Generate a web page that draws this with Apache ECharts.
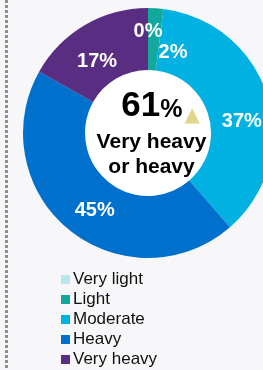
<!DOCTYPE html>
<html>
<head>
<meta charset="utf-8">
<script src="https://cdn.jsdelivr.net/npm/echarts@6/dist/echarts.min.js"></script>
<style>
  html, body { margin: 0; padding: 0; background: #f7f7fa; }
  #main { width: 263px; height: 370px; }
</style>
</head>
<body>
<div id="main"></div>
<script>
// categories and shares (%)
var categories = ['Very light', 'Light', 'Moderate', 'Heavy', 'Very heavy'];
var shares = [0, 2, 37, 45, 17];
var colors = ['#bce6ef', '#12a89d', '#00b1e2', '#0070cd', '#592d82'];
// headline in the hole
var headlineValue = 61;
var headlineText = ['Very heavy', 'or heavy'];

// nudges for the slice labels (px)
var labelNudge = [[0, -5], [19, 16], [1, 17], [8, 2], [-2, 12]];

var myChart = echarts.init(document.getElementById('main'));

var pieData = categories.map(function (name, i) {
    return {
        name: name,
        value: shares[i],
        itemStyle: { color: colors[i] },
        label: { offset: labelNudge[i] }
    };
});

var option = {
    backgroundColor: '#f7f7fa',
    animation: false,
    textStyle: { fontFamily: 'Liberation Sans, Arial, sans-serif' },
    legend: {
        orient: 'vertical',
        left: 61,
        top: 271,
        padding: 0,
        itemWidth: 9,
        itemHeight: 9,
        itemGap: 3,
        icon: 'rect',
        selectedMode: false,
        data: categories,
        textStyle: {
            fontSize: 17,
            lineHeight: 17,
            color: '#111',
            padding: [0, 0, 0, -2]
        }
    },
    graphic: [
        {
            type: 'line',
            shape: { x1: 6.5, y1: 0, x2: 6.5, y2: 370 },
            style: { stroke: '#8e8e8e', lineWidth: 3, lineDash: [3, 2] },
            z: 10
        },
        {
            // white hole of the donut
            type: 'circle',
            shape: { cx: 148, cy: 133, r: 63 },
            style: { fill: '#ffffff' },
            z: 1
        },
        {
            type: 'text',
            x: 160.5,
            y: 123.5,
            style: {
                text: '{big|' + headlineValue + '}{pct|%}{tri|▲}',
                align: 'center',
                verticalAlign: 'bottom',
                rich: {
                    big: { fontSize: 35, fontWeight: 'bold', fill: '#000', fontFamily: 'Liberation Sans', verticalAlign: 'bottom' },
                    pct: { fontSize: 25, fontWeight: 'bold', fill: '#000', fontFamily: 'Liberation Sans', verticalAlign: 'bottom', padding: [0, 0, 1, 0] },
                    tri: { fontSize: 20, fill: '#e3d68a', fontFamily: 'DejaVu Sans', verticalAlign: 'bottom', padding: [0, 0, -2, 2] }
                }
            },
            z: 10
        },
        {
            type: 'text',
            x: 151.5,
            y: 155,
            style: {
                text: headlineText.join('\n'),
                align: 'center',
                verticalAlign: 'middle',
                fontSize: 21,
                lineHeight: 25,
                fontWeight: 'bold',
                fill: '#000',
                fontFamily: 'Liberation Sans'
            },
            z: 10
        }
    ],
    series: [
        {
            type: 'pie',
            center: [148, 133],
            radius: [63, 125],
            startAngle: 90,
            clockwise: true,
            avoidLabelOverlap: false,
            silent: true,
            itemStyle: { borderWidth: 0 },
            label: {
                show: true,
                position: 'inside',
                formatter: '{c}%',
                color: '#fff',
                fontSize: 20,
                fontWeight: 'bold',
                fontFamily: 'Liberation Sans'
            },
            labelLine: { show: false },
            data: pieData
        }
    ]
};

myChart.setOption(option);
</script>
</body>
</html>
